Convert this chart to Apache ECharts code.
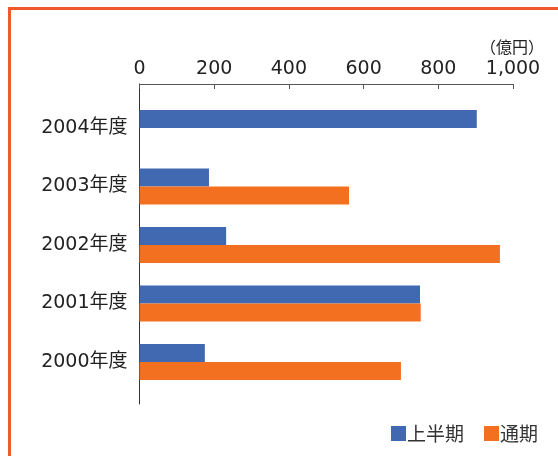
<!DOCTYPE html>
<html>
<head>
<meta charset="utf-8">
<script src="https://cdn.jsdelivr.net/npm/echarts@6/dist/echarts.min.js"></script>
<style>
  body { margin: 0; background: #fff; }
  #frame { position: absolute; left: 8px; top: 7px; width: 560px; height: 460px;
           border-left: 3px solid #f15a2e; border-top: 3px solid #f15a2e; }
  #main { position: absolute; left: 0; top: 0; width: 558px; height: 456px; }
</style>
</head>
<body>
<div id="frame"></div>
<div id="main"></div>
<script>
// 年度（上から順に）
const categories = ['2004年度', '2003年度', '2002年度', '2001年度', '2000年度'];
// 上半期（億円）
const firstHalf = [903, 186, 232, 751, 175];
// 通期（億円）
const fullYear = [null, 561, 965, 753, 700];
const xTicks = [0, 200, 400, 600, 800, 1000];

const font = "'DejaVu Sans', 'Noto Sans CJK JP', sans-serif";
let myChart = echarts.init(document.getElementById('main'));
let option;

option = {
  animation: false,
  textStyle: { fontFamily: font },
  title: {
    text: '（億円）',
    right: 9,
    top: 34,
    textStyle: { fontSize: 16, fontWeight: 'normal', color: '#222', fontFamily: "'Noto Sans CJK JP', sans-serif" }
  },
  legend: {
    left: 386,
    top: 419,
    icon: 'rect',
    itemWidth: 15,
    itemHeight: 15,
    itemGap: 20,
    textStyle: { fontSize: 19, color: '#333', fontFamily: "'Noto Sans CJK JP', sans-serif", padding: [0, 0, 0, -4] },
    data: ['上半期', '通期']
  },
  grid: [
    { left: 139.5, right: 45, top: 98.75, height: 292.5 },
    { left: 139.5, right: 45, top: 84, bottom: 52 }
  ],
  xAxis: [
    {
      type: 'value',
      position: 'top',
      offset: 14.75,
      min: xTicks[0],
      max: xTicks[xTicks.length - 1],
      interval: 200,
      axisLine: { show: true, lineStyle: { color: '#555', width: 1 } },
      axisTick: { show: true, inside: true, length: 5, lineStyle: { color: '#555' } },
      splitLine: { show: false },
      axisLabel: {
        fontSize: 19,
        color: '#222',
        margin: 5,
        formatter: v => v.toLocaleString('en-US')
      }
    },
    { type: 'value', gridIndex: 1, min: 0, max: 1, show: false }
  ],
  yAxis: [
    {
      type: 'category',
      inverse: true,
      data: categories,
      axisLine: { show: false },
      axisTick: { show: false },
      axisLabel: { fontSize: 19, color: '#222', margin: 12 }
    },
    {
      type: 'value',
      gridIndex: 1,
      min: 0,
      max: 1,
      axisLine: { show: true, lineStyle: { color: '#333', width: 1 } },
      axisTick: { show: false },
      axisLabel: { show: false },
      splitLine: { show: false }
    }
  ],
  series: [
    {
      name: '上半期',
      type: 'bar',
      data: firstHalf,
      barWidth: 18,
      barGap: '0%',
      itemStyle: { color: '#4169b2' }
    },
    {
      name: '通期',
      type: 'bar',
      data: fullYear,
      barWidth: 18,
      barGap: '0%',
      itemStyle: { color: '#f37021' }
    }
  ]
};

option && myChart.setOption(option);
</script>
</body>
</html>
